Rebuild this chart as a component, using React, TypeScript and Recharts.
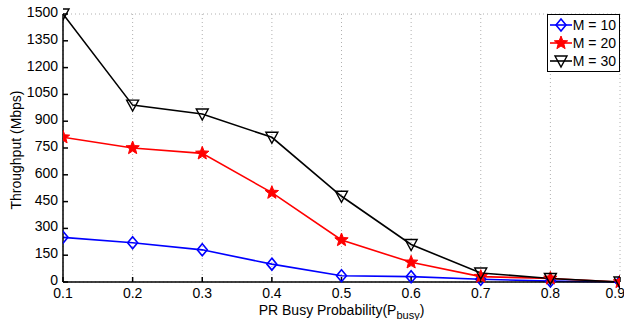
import { CartesianGrid, Legend, Line, LineChart, XAxis, YAxis } from "recharts";

const busyProb = [0.1, 0.2, 0.3, 0.4, 0.5, 0.6, 0.7, 0.8, 0.9];
const m10 = [250, 220, 180, 100, 35, 30, 15, 5, 0];
const m20 = [810, 750, 720, 500, 235, 110, 30, 20, 0];
const m30 = [1500, 990, 940, 810, 480, 210, 50, 20, 0];
const yTicks = [0, 150, 300, 450, 600, 750, 900, 1050, 1200, 1350, 1500];

const data = busyProb.map((p, i) => ({ p, m10: m10[i], m20: m20[i], m30: m30[i] }));

const FONT = "'Liberation Sans', Arial, sans-serif";

function starPoints(cx: number, cy: number, ro: number, ri: number) {
  const pts: string[] = [];
  for (let k = 0; k < 10; k++) {
    const r = k % 2 === 0 ? ro : ri;
    const a = -Math.PI / 2 + (k * Math.PI) / 5;
    pts.push(`${cx + r * Math.cos(a)},${cy + r * Math.sin(a)}`);
  }
  return pts.join(" ");
}

function Diamond({ cx, cy }: any) {
  if (cx == null || cy == null) return null;
  return (
    <polygon
      points={`${cx},${cy - 6} ${cx + 5},${cy} ${cx},${cy + 6} ${cx - 5},${cy}`}
      fill="none"
      stroke="#0000ff"
      strokeWidth={1.6}
    />
  );
}

function Star({ cx, cy }: any) {
  if (cx == null || cy == null) return null;
  return <polygon points={starPoints(cx, cy, 7, 3)} fill="#ff0000" stroke="#ff0000" strokeWidth={1} />;
}

function TriDown({ cx, cy }: any) {
  if (cx == null || cy == null) return null;
  return (
    <polygon
      points={`${cx - 6},${cy - 5} ${cx + 6},${cy - 5} ${cx},${cy + 6}`}
      fill="none"
      stroke="#000"
      strokeWidth={1.4}
    />
  );
}

const legendItems = [
  { label: "M = 10", color: "#0000ff", Marker: Diamond },
  { label: "M = 20", color: "#ff0000", Marker: Star },
  { label: "M = 30", color: "#000", Marker: TriDown },
];

function LegendBox() {
  return (
    <div
      style={{
        border: "1.5px solid #000",
        background: "#fff",
        padding: "1px 3px 1px 1px",
        fontFamily: FONT,
        fontSize: 14,
        lineHeight: "18px",
        whiteSpace: "nowrap",
      }}
    >
      {legendItems.map(({ label, color, Marker }) => (
        <div key={label} style={{ display: "flex", alignItems: "center" }}>
          <svg width={24} height={18}>
            <line x1={1} y1={9} x2={23} y2={9} stroke={color} strokeWidth={1.6} />
            <Marker cx={12} cy={9} />
          </svg>
          <span>{label}</span>
        </div>
      ))}
    </div>
  );
}

function XLabel({ viewBox }: any) {
  const { x, y, width } = viewBox;
  return (
    <text x={x + width / 2} y={y + 33} textAnchor="middle" fontFamily={FONT} fontSize={14} fill="#000">
      PR Busy Probability(P
      <tspan dy={4} fontSize={11}>busy</tspan>
      <tspan dy={-4}>)</tspan>
    </text>
  );
}

export default function App() {
  return (
    <div style={{ position: "absolute", left: 0, top: 0, width: 624, height: 320, background: "#fff" }}>
      <LineChart width={624} height={320} data={data} margin={{ top: 14, right: 4, bottom: 0, left: 0 }}>
        <CartesianGrid stroke="#b0b0b0" strokeDasharray="1 3" />
        <XAxis
          xAxisId="b"
          dataKey="p"
          type="number"
          domain={[0.1, 0.9]}
          ticks={busyProb}
          allowDataOverflow
          height={38}
          stroke="#000"
          strokeWidth={1.5}
          tickSize={-5}
          tickMargin={11}
          tick={{ fill: "#000", fontSize: 14, fontFamily: FONT }}
          label={<XLabel />}
        />
        <XAxis
          xAxisId="t"
          dataKey="p"
          type="number"
          orientation="top"
          domain={[0.1, 0.9]}
          ticks={busyProb}
          height={0}
          stroke="#000"
          strokeWidth={1.5}
          tickSize={-5}
          tick={false}
        />
        <YAxis
          yAxisId="l"
          type="number"
          domain={[0, 1500]}
          ticks={yTicks}
          width={63}
          stroke="#000"
          strokeWidth={1.5}
          tickSize={-5}
          tickMargin={10}
          interval={0}
          tick={{ fill: "#000", fontSize: 14, fontFamily: FONT, dy: -2 }}
          label={{
            value: "Throughput (Mbps)",
            angle: -90,
            position: "insideLeft",
            dx: 11,
            dy: 2,
            style: { textAnchor: "middle", fontSize: 14, fontFamily: FONT, fill: "#000" },
          }}
        />
        <YAxis
          yAxisId="r"
          orientation="right"
          type="number"
          domain={[0, 1500]}
          ticks={yTicks}
          width={0}
          stroke="#000"
          strokeWidth={1.5}
          tickSize={-5}
          tick={false}
        />
        <Legend
          verticalAlign="middle"
          align="center"
          layout="horizontal"
          content={<LegendBox />}
          wrapperStyle={{ top: 14, right: 4, left: "auto", bottom: "auto", width: "auto" }}
        />
        <Line xAxisId="b" yAxisId="l" dataKey="m10" stroke="#0000ff" strokeWidth={1.6} dot={<Diamond />} isAnimationActive={false} />
        <Line xAxisId="b" yAxisId="l" dataKey="m20" stroke="#ff0000" strokeWidth={1.6} dot={<Star />} isAnimationActive={false} />
        <Line xAxisId="b" yAxisId="l" dataKey="m30" stroke="#000" strokeWidth={1.6} dot={<TriDown />} isAnimationActive={false} />
      </LineChart>
    </div>
  );
}
